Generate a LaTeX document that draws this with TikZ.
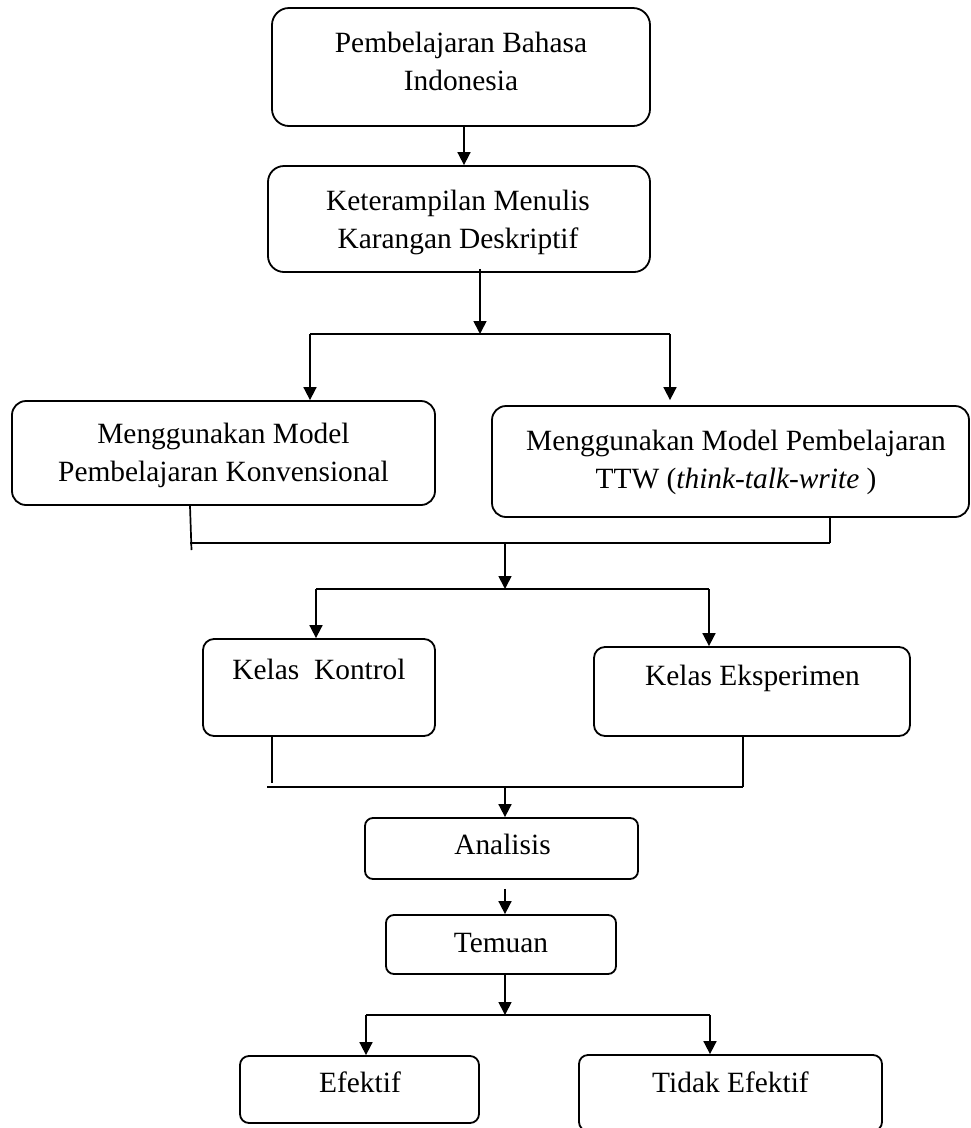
\documentclass[tikz,border=0pt]{standalone}
\usepackage{fontspec}
\setmainfont{Liberation Serif}
\usetikzlibrary{arrows.meta}
\tikzset{
  box/.style={draw, line width=1.8pt, rounded corners=#1, inner sep=0pt},
  box/.default=15pt,
  lbl/.style={font=\fontsize{29.4}{38}\selectfont, align=center, inner sep=0pt},
  one/.style={lbl, text height=20pt, text depth=6pt},
  conn/.style={line width=1.7pt},
  arr/.style={conn, -{Triangle[length=13pt,width=13pt]}}
}
\begin{document}
\begin{tikzpicture}[x=1pt,y=-1pt]
\clip (0,0) rectangle (971,1128);
\fill[white] (0,0) rectangle (971,1128);
% boxes
\node[box=17pt, minimum width=378pt, minimum height=118pt] (b1) at (461,67) {};
\node[lbl] (t1) at (461,61) {Pembelajaran Bahasa\\Indonesia};
\node[box=16pt, minimum width=382pt, minimum height=106pt] (b2) at (459,219) {};
\node[lbl] (t2) at (458,222) {Keterampilan Menulis\\Karangan Deskriptif};
\node[box=14pt, minimum width=423pt, minimum height=104pt] (b3) at (223.5,453) {};
\node[lbl] (t3) at (223.5,455.5) {Menggunakan Model\\Pembelajaran Konvensional};
\node[box=14pt, minimum width=477pt, minimum height=111pt] (b4) at (730.5,461.5) {};
\node[lbl] (t4) at (736,462) {Menggunakan Model Pembelajaran\\TTW (\textit{think-talk-write} )};
\node[box=11pt, minimum width=232pt, minimum height=97pt] (b5) at (319,687.5) {};
\node[one] (t5) at (319,672) {Kelas\ \ Kontrol};
\node[box=11pt, minimum width=316pt, minimum height=89pt] (b6) at (752,691.5) {};
\node[one] (t6) at (752.5,678) {Kelas Eksperimen};
\node[box=8pt, minimum width=273pt, minimum height=61pt] (b7) at (501.5,848.5) {};
\node[one] (t7) at (502.5,847) {Analisis};
\node[box=8pt, minimum width=230pt, minimum height=59pt] (b8) at (501,944.5) {};
\node[one] (t8) at (501,945) {Temuan};
\node[box=9pt, minimum width=239pt, minimum height=67pt] (b9) at (359.5,1089.5) {};
\node[one] (t9) at (360,1085) {Efektif};
\node[box=9pt, minimum width=303pt, minimum height=76pt] (b10) at (730.5,1093) {};
\node[one] (t10) at (730.5,1085) {Tidak Efektif};
% coordinates
\coordinate (s1) at (480,334);
\coordinate (s1l) at (310,334);
\coordinate (s1r) at (670,334);
\coordinate (j1l) at (190,543);
\coordinate (j1e) at (191.5,550);
\coordinate (j1r) at (830,543);
\coordinate (j1m) at (505,543);
\coordinate (s2) at (505,589);
\coordinate (s2l) at (316,589);
\coordinate (s2r) at (709,589);
\coordinate (v2l) at (272,783);
\coordinate (j2l) at (267,787);
\coordinate (j2r) at (743,787);
\coordinate (j2m) at (505,787);
\coordinate (s3) at (505,1015);
\coordinate (s3l) at (366,1015);
\coordinate (s3r) at (710,1015);
% connectors
\draw[arr] ([xshift=3pt]b1.south) -- ([xshift=5pt]b2.north);
\draw[arr] ([xshift=21pt,yshift=4pt]b2.south) -- (s1);
\draw[conn] (s1l) -- (s1r);
\draw[arr] (s1l) -- (s1l |- b3.north);
\draw[arr] (s1r) -- ([yshift=5pt]s1r |- b4.north);
\draw[conn] (b3.south -| j1l) -- (j1e);
\draw[conn] (b4.south -| j1r) -- (j1r);
\draw[conn] (j1l) -- (j1r);
\draw[arr] (j1m) -- (s2);
\draw[conn] (s2l) -- (s2r);
\draw[arr] (s2l) -- (s2l |- b5.north);
\draw[arr] (s2r) -- (s2r |- b6.north);
\draw[conn] (b5.south -| v2l) -- (v2l);
\draw[conn] (b6.south -| j2r) -- (j2r);
\draw[conn] (j2l) -- (j2r);
\draw[arr] (j2m) -- (j2m |- b7.north);
\draw[arr] ([yshift=-9pt]b7.south -| j2m) -- (b8.north -| j2m);
\draw[arr] (b8.south -| s3) -- (s3);
\draw[conn] (s3l) -- (s3r);
\draw[arr] (s3l) -- (s3l |- b9.north);
\draw[arr] (s3r) -- (s3r |- b10.north);
\end{tikzpicture}
\end{document}
